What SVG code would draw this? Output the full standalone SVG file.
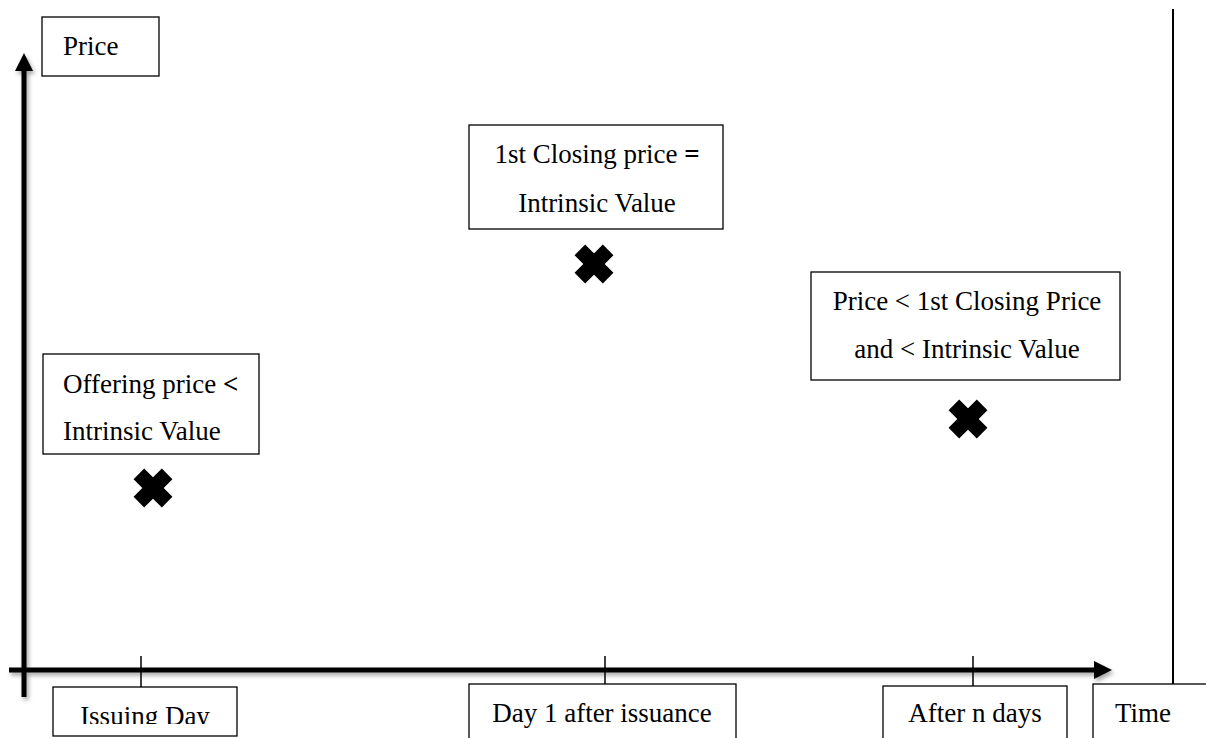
<svg xmlns="http://www.w3.org/2000/svg" width="1206" height="738" viewBox="0 0 1206 738">
<style>
.box{fill:#fff;stroke:#000;stroke-width:1.3}
.t{font-family:"Liberation Serif","Times New Roman",serif;font-size:27px;fill:#000}
.c{text-anchor:middle}
.ax{stroke:#000;stroke-width:5;fill:none}
.tick{stroke:#000;stroke-width:1.5}
</style>
<defs>
<filter id="sh" x="-5%" y="-5%" width="110%" height="120%">
<feDropShadow dx="2" dy="3" stdDeviation="2" flood-color="#000" flood-opacity="0.35"/>
</filter>
<g id="xm">
<rect x="-20" y="-7.5" width="40" height="15" transform="rotate(45)"/>
<rect x="-20" y="-7.5" width="40" height="15" transform="rotate(-45)"/>
</g>
<clipPath id="clipIssue"><rect x="53" y="687" width="184" height="37"/></clipPath>
</defs>
<rect width="1206" height="738" fill="#fff"/>
<g id="connectors">
<g filter="url(#sh)">
<line class="ax" x1="24" y1="697" x2="24" y2="68"/>
<polygon points="24,53 15,71 33,71" fill="#000"/>
<line class="ax" x1="9" y1="670" x2="1097" y2="670"/>
<polygon points="1112,670 1094,661 1094,679" fill="#000"/>
</g>
<line x1="1173" y1="9" x2="1173" y2="684" stroke="#000" stroke-width="2"/>
<line class="tick" x1="141" y1="656" x2="141" y2="690"/>
<line class="tick" x1="605" y1="656" x2="605" y2="685"/>
<line class="tick" x1="973" y1="656" x2="973" y2="686"/>
</g>
<g id="price">
<rect class="box" x="42" y="17" width="117" height="59"/>
<text class="t" x="63" y="55">Price</text>
</g>
<g id="offering">
<rect class="box" x="43" y="354" width="216" height="100"/>
<text class="t" x="63" y="393">Offering price <tspan font-weight="bold">&lt;</tspan></text>
<text class="t" x="63" y="440">Intrinsic Value</text>
<use href="#xm" x="153" y="488"/>
</g>
<g id="closing">
<rect class="box" x="469" y="125" width="254" height="104"/>
<text class="t c" x="597" y="163">1st Closing price <tspan font-weight="bold">=</tspan></text>
<text class="t c" x="597" y="212">Intrinsic Value</text>
<use href="#xm" x="594" y="264"/>
</g>
<g id="later">
<rect class="box" x="811" y="272" width="309" height="108"/>
<text class="t c" x="967" y="310">Price &lt; 1st Closing Price</text>
<text class="t c" x="967" y="358">and &lt; Intrinsic Value</text>
<use href="#xm" x="968" y="419"/>
</g>
<g id="issuing">
<rect class="box" x="53" y="687" width="184" height="49"/>
<text class="t c" x="145" y="725" clip-path="url(#clipIssue)">Issuing Day</text>
</g>
<g id="day1">
<rect class="box" x="469" y="684" width="267" height="60"/>
<text class="t c" x="602" y="722">Day 1 after issuance</text>
</g>
<g id="ndays">
<rect class="box" x="883" y="686" width="184" height="60"/>
<text class="t c" x="975" y="722">After n days</text>
</g>
<g id="time">
<rect class="box" x="1093" y="684" width="130" height="60"/>
<text class="t" x="1115" y="722">Time</text>
</g>
</svg>
